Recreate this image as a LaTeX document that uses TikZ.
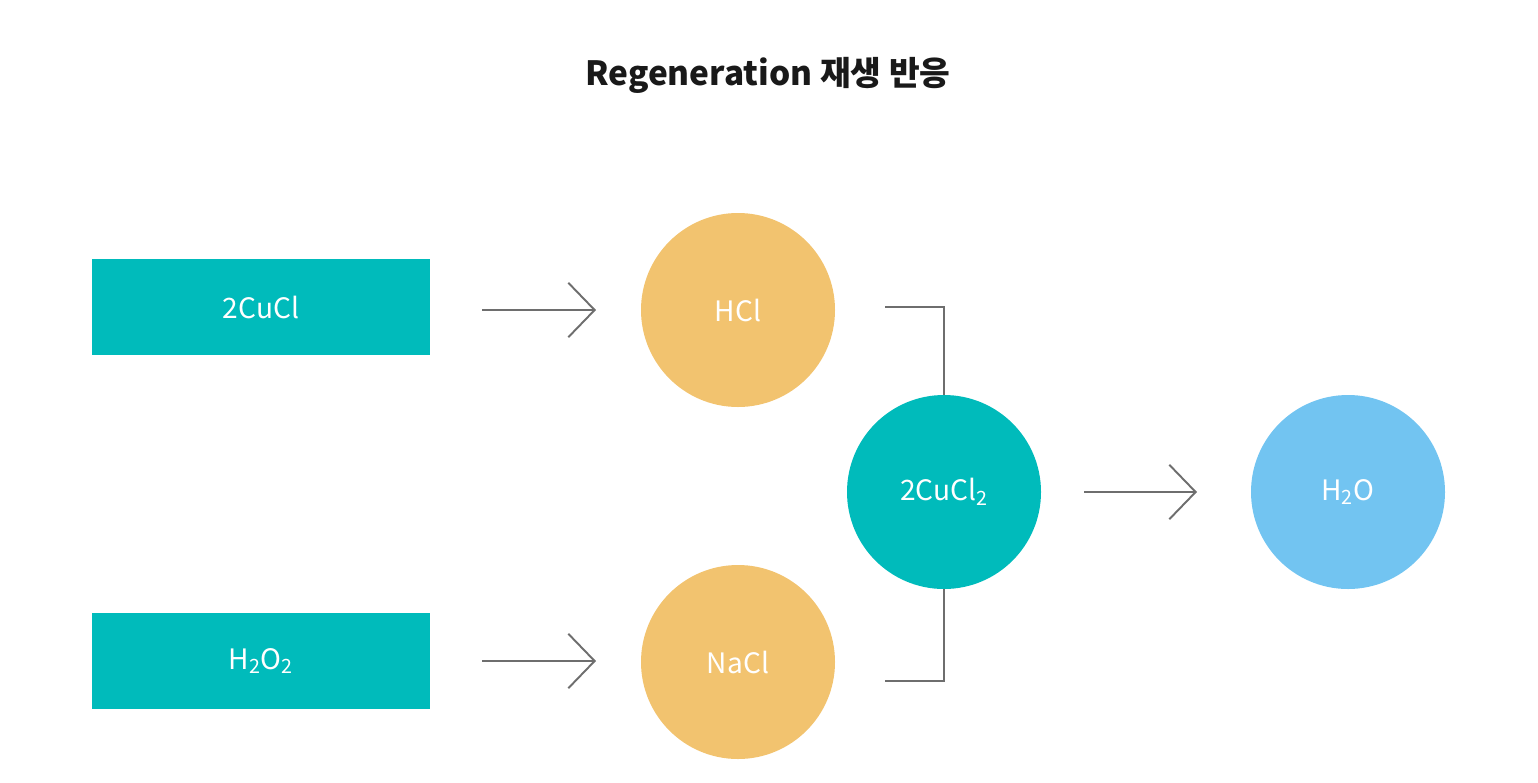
\documentclass[tikz,border=0pt]{standalone}
\usepackage{fontspec}
\setmainfont{Noto Sans CJK KR}
\usetikzlibrary{arrows.meta}
\definecolor{teal1}{HTML}{00BBBB}
\definecolor{org}{HTML}{F2C36F}
\definecolor{sky}{HTML}{72C4F1}
\definecolor{ln}{HTML}{6E6E6E}
\begin{document}
\begin{tikzpicture}[x=0.02cm,y=-0.02cm,
  box/.style={fill=teal1,minimum width=338*0.02cm,minimum height=96*0.02cm,inner sep=0,text=white,font=\fontsize{16}{18}\selectfont},
  circ/.style={circle,minimum size=194*0.02cm,inner sep=0,text=white,font=\fontsize{16}{18}\selectfont},
  arr/.style={draw=ln,line width=1.1pt,-{Straight Barb[length=15pt,width=31pt,line width=1.1pt]}},
  con/.style={draw=ln,line width=1.1pt}]
\useasboundingbox (0,0) rectangle (1538,782);
\node[font=\bfseries\fontsize{19}{22}\selectfont,text=black!90] (title) at (768,75) {Regeneration 재생 반응};
\node[box] (a) at (261,307) {2CuCl};
\node[box] (b) at (261,661) {H\textsubscript{2}O\textsubscript{2}};
\node[circ,fill=org] (hcl) at (738,310) {HCl};
\node[circ,fill=org] (nacl) at (738,662) {NaCl};
\node[circ,fill=teal1] (cu) at (944,492) {2CuCl\textsubscript{2}};
\node[circ,fill=sky] (w) at (1348,492) {H\textsubscript{2}O};
\coordinate (a1) at (482,310); \coordinate (a2) at (596,310);
\coordinate (b1) at (482,661); \coordinate (b2) at (596,661);
\coordinate (c1) at (1084,492); \coordinate (c2) at (1197,492);
\coordinate (t1) at (885,307); \coordinate (t2) at (885,681);
\draw[arr] (a1) -- (a2);
\draw[arr] (b1) -- (b2);
\draw[arr] (c1) -- (c2);
\draw[con] (t1) -| (cu.north);
\draw[con] (t2) -| (cu.south);
\end{tikzpicture}
\end{document}
